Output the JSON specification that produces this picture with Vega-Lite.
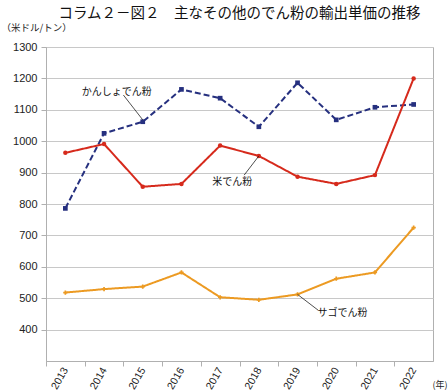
{
  "$schema": "https://vega.github.io/schema/vega-lite/v6.json",
  "width": 387,
  "height": 314,
  "autosize": {"type": "none"},
  "padding": {"left": 46, "top": 47, "right": 15, "bottom": 31},
  "background": "white",
  "config": {
    "view": {"stroke": "#b0b0b0", "strokeWidth": 1},
    "font": "Liberation Sans"
  },
  "title": {
    "text": "コラム２－図２　主なその他のでん粉の輸出単価の推移",
    "font": "Noto Sans CJK JP",
    "fontSize": 14.5,
    "fontWeight": "normal",
    "color": "#111",
    "anchor": "middle",
    "offset": 1
  },
  "datasets": {
    "series": [
      {"year": 2013, "series": "かんしょでん粉", "value": 786},
      {"year": 2014, "series": "かんしょでん粉", "value": 1025},
      {"year": 2015, "series": "かんしょでん粉", "value": 1062},
      {"year": 2016, "series": "かんしょでん粉", "value": 1165},
      {"year": 2017, "series": "かんしょでん粉", "value": 1137},
      {"year": 2018, "series": "かんしょでん粉", "value": 1046},
      {"year": 2019, "series": "かんしょでん粉", "value": 1186},
      {"year": 2020, "series": "かんしょでん粉", "value": 1068},
      {"year": 2021, "series": "かんしょでん粉", "value": 1108},
      {"year": 2022, "series": "かんしょでん粉", "value": 1117},
      {"year": 2013, "series": "米でん粉", "value": 963},
      {"year": 2014, "series": "米でん粉", "value": 991},
      {"year": 2015, "series": "米でん粉", "value": 855},
      {"year": 2016, "series": "米でん粉", "value": 864},
      {"year": 2017, "series": "米でん粉", "value": 986},
      {"year": 2018, "series": "米でん粉", "value": 953},
      {"year": 2019, "series": "米でん粉", "value": 887},
      {"year": 2020, "series": "米でん粉", "value": 864},
      {"year": 2021, "series": "米でん粉", "value": 892},
      {"year": 2022, "series": "米でん粉", "value": 1200},
      {"year": 2013, "series": "サゴでん粉", "value": 518},
      {"year": 2014, "series": "サゴでん粉", "value": 529},
      {"year": 2015, "series": "サゴでん粉", "value": 537},
      {"year": 2016, "series": "サゴでん粉", "value": 582},
      {"year": 2017, "series": "サゴでん粉", "value": 503},
      {"year": 2018, "series": "サゴでん粉", "value": 495},
      {"year": 2019, "series": "サゴでん粉", "value": 512},
      {"year": 2020, "series": "サゴでん粉", "value": 562},
      {"year": 2021, "series": "サゴでん粉", "value": 582},
      {"year": 2022, "series": "サゴでん粉", "value": 725}
    ],
    "labels": [
      {"label": "かんしょでん粉", "year": 2014.33, "value": 1157},
      {"label": "米でん粉", "year": 2017.31, "value": 871},
      {"label": "サゴでん粉", "year": 2020.16, "value": 454}
    ],
    "leaders": [
      {"year": 2014.5, "value": 1147, "year2": 2015, "value2": 1068},
      {"year": 2017.62, "value": 892, "year2": 2018, "value2": 953},
      {"year": 2019.53, "value": 462, "year2": 2019, "value2": 512}
    ]
  },
  "layer": [
    {
      "data": {"name": "series"},
      "mark": {"type": "line", "strokeWidth": 2},
      "encoding": {
        "x": {
          "field": "year", "type": "quantitative",
          "scale": {"domain": [2012.5, 2022.5], "nice": false, "zero": false},
          "axis": {
            "values": [2013, 2014, 2015, 2016, 2017, 2018, 2019, 2020, 2021, 2022],
            "format": "d",
            "grid": false,
            "labelOverlap": false,
            "labelAngle": -60,
            "labelAlign": "right",
            "labelBaseline": "middle",
            "labelFontSize": 10.5,
            "labelColor": "#222",
            "labelPadding": 2,
            "labelFont": "Liberation Sans",
            "tickOffset": -19.35,
            "labelOffset": 19.35,
            "tickSize": 5,
            "tickColor": "#b0b0b0",
            "domainColor": "#b0b0b0",
            "title": "(年)",
            "titleFont": "Noto Sans CJK JP",
            "titleFontSize": 9,
            "titleFontWeight": "normal",
            "titleColor": "#222",
            "titleAlign": "left",
            "titleBaseline": "middle",
            "titleAnchor": "end",
            "titleX": 386,
            "titleY": 23
          }
        },
        "y": {
          "field": "value", "type": "quantitative",
          "scale": {"domain": [300, 1300], "nice": false, "zero": false},
          "axis": {
            "values": [400, 500, 600, 700, 800, 900, 1000, 1100, 1200, 1300],
            "tickCount": 11,
            "format": "d",
            "labelOverlap": false,
            "labelFontSize": 11,
            "labelColor": "#222",
            "labelFont": "Liberation Sans",
            "labelPadding": 4,
            "tickSize": 5,
            "tickColor": "#b0b0b0",
            "domainColor": "#b0b0b0",
            "gridColor": "#c8c8c8",
            "gridWidth": 1,
            "title": "（米ドル/トン）",
            "titleFont": "Noto Sans CJK JP",
            "titleFontSize": 9.5,
            "titleFontWeight": "normal",
            "titleColor": "#222",
            "titleAngle": 0,
            "titleAlign": "left",
            "titleBaseline": "middle",
            "titleX": -45,
            "titleY": -20
          }
        },
        "color": {
          "field": "series", "type": "nominal",
          "scale": {"domain": ["かんしょでん粉", "米でん粉", "サゴでん粉"], "range": ["#26307f", "#d62a1c", "#ec9a22"]},
          "legend": null
        },
        "strokeDash": {
          "field": "series", "type": "nominal",
          "scale": {"domain": ["かんしょでん粉", "米でん粉", "サゴでん粉"], "range": [[6, 3], [1, 0], [1, 0]]},
          "legend": null
        }
      }
    },
    {
      "data": {"name": "series"},
      "mark": {"type": "point", "filled": true, "opacity": 1},
      "encoding": {
        "x": {"field": "year", "type": "quantitative"},
        "y": {"field": "value", "type": "quantitative"},
        "color": {
          "field": "series", "type": "nominal",
          "scale": {"domain": ["かんしょでん粉", "米でん粉", "サゴでん粉"], "range": ["#26307f", "#d62a1c", "#ec9a22"]},
          "legend": null
        },
        "shape": {
          "field": "series", "type": "nominal",
          "scale": {"domain": ["かんしょでん粉", "米でん粉", "サゴでん粉"], "range": ["square", "circle", "cross"]},
          "legend": null
        },
        "size": {
          "field": "series", "type": "nominal",
          "scale": {"domain": ["かんしょでん粉", "米でん粉", "サゴでん粉"], "range": [22, 18, 18]},
          "legend": null
        }
      }
    },
    {
      "data": {"name": "leaders"},
      "mark": {"type": "rule", "color": "#222", "strokeWidth": 0.8},
      "encoding": {
        "x": {"field": "year", "type": "quantitative"},
        "y": {"field": "value", "type": "quantitative"},
        "x2": {"field": "year2"},
        "y2": {"field": "value2"}
      }
    },
    {
      "data": {"name": "labels"},
      "mark": {"type": "text", "font": "Noto Sans CJK JP", "fontSize": 10, "color": "#111", "align": "center", "baseline": "middle"},
      "encoding": {
        "x": {"field": "year", "type": "quantitative"},
        "y": {"field": "value", "type": "quantitative"},
        "text": {"field": "label"}
      }
    }
  ]
}
